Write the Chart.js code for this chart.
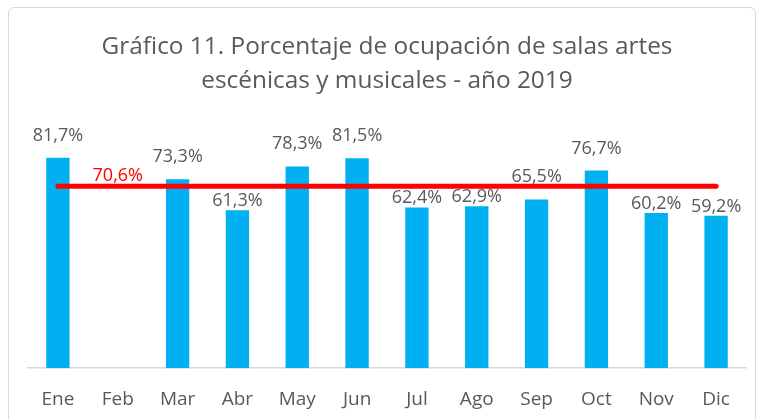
<!DOCTYPE html>
<html>
<head>
<meta charset="utf-8">
<script src="https://cdn.jsdelivr.net/npm/chart.js@4/dist/chart.umd.min.js"></script>
<style>
  html, body { margin: 0; padding: 0; background: #fff; }
  #wrap { position: relative; width: 770px; height: 419px; overflow: hidden; }
  #frame {
    position: absolute; left: 8px; top: 7px; width: 748px; height: 440px;
    border: 1.5px solid #d9d9d9; border-radius: 6px; box-sizing: border-box;
  }
  canvas { position: absolute; left: 0; top: 0; }
</style>
</head>
<body>
<div id="wrap">
  <div id="frame"></div>
  <!-- canvas runs a little below the window: the reference is cropped at the bottom -->
  <canvas id="chart" width="770" height="431"></canvas>
</div>
<script>
// Porcentaje de ocupación de salas artes escénicas y musicales - 2019
const months = ['Ene', 'Feb', 'Mar', 'Abr', 'May', 'Jun', 'Jul', 'Ago', 'Sep', 'Oct', 'Nov', 'Dic'];
const occupancy = [81.7, null, 73.3, 61.3, 78.3, 81.5, 62.4, 62.9, 65.5, 76.7, 60.2, 59.2];
const average = 70.6;
const averageLabelIndex = 1; // label of the red line sits over Feb

const fmt = v => v.toFixed(1).replace('.', ',') + '%';
const FONT = "'Open Sans', sans-serif";

// draws value labels above bars and the average label over the line
const valueLabels = {
  id: 'valueLabels',
  afterDatasetsDraw(chart) {
    const ctx = chart.ctx;
    ctx.save();
    ctx.font = '18px ' + FONT;
    ctx.textAlign = 'center';
    ctx.textBaseline = 'alphabetic';

    const bars = chart.getDatasetMeta(0);
    ctx.fillStyle = '#595959';
    bars.data.forEach((el, i) => {
      const v = occupancy[i];
      if (v == null) return;
      // labels of bars well under the average line sit tight on the bar
      const gap = v < average - 6 ? 4 : 17;
      ctx.fillText(fmt(v), el.x, el.y - gap);
    });

    const line = chart.getDatasetMeta(1);
    const pt = line.data[averageLabelIndex];
    ctx.fillStyle = '#ff0000';
    ctx.fillText(fmt(average), pt.x, pt.y - 5);
    ctx.restore();
  }
};

new Chart(document.getElementById('chart'), {
  data: {
    labels: months,
    datasets: [
      {
        type: 'bar',
        data: occupancy,
        backgroundColor: '#00b0f0',
        categoryPercentage: 1,
        barPercentage: 0.39,
        order: 2
      },
      {
        type: 'line',
        data: months.map(() => average),
        borderColor: '#ff0000',
        borderWidth: 5,
        borderCapStyle: 'round',
        pointRadius: 0,
        fill: false,
        order: 1
      }
    ]
  },
  options: {
    responsive: false,
    animation: false,
    layout: { padding: { left: 28, right: 24, top: 0, bottom: 0 } },
    scales: {
      x: {
        offset: true,
        grid: { display: false, drawTicks: false },
        border: { display: true, color: '#d9d9d9', width: 1.5 },
        ticks: {
          color: '#595959',
          font: { family: FONT, size: 19 },
          padding: 20
        }
      },
      y: {
        display: false,
        min: 0,
        max: 90
      }
    },
    plugins: {
      legend: { display: false },
      tooltip: { enabled: false },
      title: {
        display: true,
        text: ['Gráfico 11. Porcentaje de ocupación de salas artes', 'escénicas y musicales - año 2019'],
        color: '#595959',
        font: { family: FONT, size: 24.4, weight: 'normal', lineHeight: 1.4 },
        padding: { top: 30, bottom: 38 }
      }
    }
  },
  plugins: [valueLabels]
});
</script>
</body>
</html>
